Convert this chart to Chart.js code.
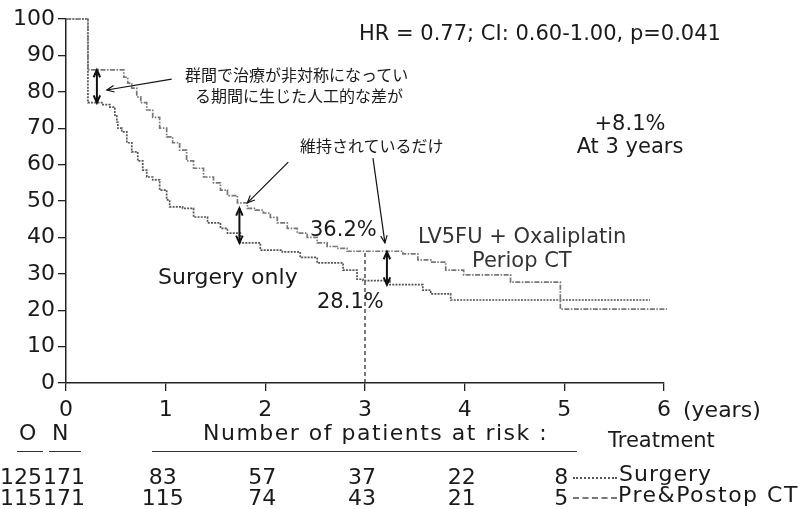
<!DOCTYPE html>
<html>
<head>
<meta charset="utf-8">
<script src="https://cdn.jsdelivr.net/npm/chart.js@4"></script>
<style>
  html, body { margin: 0; padding: 0; background: #fff; }
  #wrap { position: relative; width: 808px; height: 509px; overflow: hidden; }
  #c { position: absolute; left: 0; top: 0; }
  .t { position: absolute; font-family: "DejaVu Sans", sans-serif; font-size: 22px; line-height: 1; color: #1a1a1a; white-space: nowrap; }
  .jp { position: absolute; font-family: "Noto Sans CJK JP", sans-serif; font-size: 16px; line-height: 1; color: #1a1a1a; white-space: nowrap; }
  .ul { position: absolute; height: 0; border-top: 1.5px solid #333; }
  .ls { position: absolute; height: 0; width: 44px; }
</style>
</head>
<body>
<div id="wrap">
  <canvas id="c" width="808" height="509"></canvas>

  <div class="t" style="left:359px; top:22.5px; font-size:21px;">HR = 0.77; CI: 0.60-1.00, p=0.041</div>
  <div class="jp" style="left:185px; top:66px;">群間で治療が非対称になってい</div>
  <div class="jp" style="left:195px; top:87px;">る期間に生じた人工的な差が</div>
  <div class="jp" style="left:300px; top:137px;">維持されているだけ</div>
  <div class="t" style="left:560px; width:140px; text-align:center; top:112.5px; font-size:21px;">+8.1%</div>
  <div class="t" style="left:560px; width:140px; text-align:center; top:135.5px; font-size:21px;">At 3 years</div>
  <div class="t" style="left:310px; top:219px; font-size:21px;">36.2%</div>
  <div class="t" style="left:317px; top:290.5px; font-size:21px;">28.1%</div>
  <div class="t" style="left:158px; top:266.4px;">Surgery only</div>
  <div class="t" style="left:418px; top:225.5px; font-size:21px; color:#333;">LV5FU + Oxaliplatin</div>
  <div class="t" style="left:472px; top:249.5px; font-size:21px; color:#333;">Periop CT</div>
  <div class="t" style="left:683px; top:399.4px;">(years)</div>

  <div class="t" style="left:19px; top:422.4px;">O</div>
  <div class="t" style="left:52px; top:422.4px;">N</div>
  <div class="ul" style="left:17px; top:451px; width:26px;"></div>
  <div class="ul" style="left:49px; top:451px; width:32px;"></div>
  <div class="t" style="left:203px; top:422.4px; letter-spacing:1.5px;">Number of patients at risk :</div>
  <div class="ul" style="left:152px; top:451px; width:425px;"></div>
  <div class="t" style="left:608px; top:430.4px; font-size:21px;">Treatment</div>

  <div class="t" style="left:0px; top:466.4px;">125</div>
  <div class="t" style="left:43px; top:466.4px;">171</div>
  <div class="t" style="left:0px; top:487.4px;">115</div>
  <div class="t" style="left:43px; top:487.4px;">171</div>

  <div class="ls" style="left:573px; top:477px; border-top:2px dotted #555;"></div>
  <div class="t" style="left:619px; top:463.4px; letter-spacing:1px;">Surgery</div>
  <div class="ls" style="left:573px; top:497px; border-top:2px dashed #777;"></div>
  <div class="t" style="left:618px; top:484.4px; letter-spacing:1.5px;">Pre&amp;Postop CT</div>
</div>

<script>
// survival curves (years, %)
const ctTime = [0, 0.22, 0.58, 0.62, 0.66, 0.71, 0.75, 0.81, 0.87, 0.94, 1.01, 1.07, 1.14, 1.21, 1.28, 1.38,
  1.48, 1.55, 1.62, 1.72, 1.82, 1.90, 1.98, 2.05, 2.12, 2.22, 2.32, 2.42, 2.52, 2.62, 2.72, 2.82,
  3.38, 3.53, 3.66, 3.81, 3.99, 4.46, 4.96, 6.03];
const ctSurv = [100, 86, 84, 82.4, 81, 78.6, 77, 75, 73, 70, 67.6, 66, 64, 61, 59, 56.6,
  55, 53, 51.5, 49.5, 48, 47.5, 46.7, 45.5, 44, 42.5, 41.2, 40, 38.5, 37.5, 37, 36.2,
  35.5, 33.8, 33.2, 31, 29.7, 27.7, 20.3, 20.3];

const surgTime = [0, 0.22, 0.37, 0.44, 0.49, 0.51, 0.52, 0.56, 0.61, 0.66, 0.72, 0.77, 0.81, 0.87, 0.94,
  1.01, 1.04, 1.17, 1.28, 1.42, 1.55, 1.62, 1.75, 1.95, 2.17, 2.35, 2.52, 2.78, 2.92, 2.98,
  3.25, 3.58, 3.66, 3.86, 5.86];
const surgSurv = [100, 77, 76.5, 75.8, 73.6, 71.7, 70, 69, 66, 63.5, 61, 58.5, 56.6, 55.8, 53,
  50.3, 48.4, 48, 45.6, 44, 42.5, 41.2, 38.5, 36.5, 36, 34.5, 33, 31, 28.5, 28.1,
  27, 25.5, 24.5, 22.8, 22.8];

const atYear = 3;
const ctAt3 = 36.2;

// number at risk
const riskYears = [1, 2, 3, 4, 5];
const riskSurgery = [83, 57, 37, 22, 8];
const riskCT = [115, 74, 43, 21, 5];

const xTicks = [0, 1, 2, 3, 4, 5, 6];

// annotation arrows, in data units
const arrows = [
  { from: [1.06, 83.5], to: [0.41, 80.5], both: false },
  { from: [0.31, 86], to: [0.31, 77], both: true },
  { from: [2.23, 60.7], to: [1.82, 49.5], both: false },
  { from: [1.74, 48], to: [1.74, 38.5], both: true },
  { from: [3.08, 61.8], to: [3.20, 38.5], both: false },
  { from: [3.22, 36], to: [3.22, 27], both: true }
];

const toXY = (xs, ys) => xs.map((x, i) => ({ x: x, y: ys[i] }));

function head(ctx, x1, y1, x2, y2, size) {
  const a = Math.atan2(y2 - y1, x2 - x1);
  ctx.beginPath();
  ctx.moveTo(x2 - size * Math.cos(a - 0.42), y2 - size * Math.sin(a - 0.42));
  ctx.lineTo(x2, y2);
  ctx.lineTo(x2 - size * Math.cos(a + 0.42), y2 - size * Math.sin(a + 0.42));
  ctx.stroke();
}

const arrowPlugin = {
  id: "arrows",
  afterDatasetsDraw(chart) {
    const { ctx, scales: { x, y } } = chart;
    ctx.save();
    ctx.strokeStyle = "#111";
    ctx.setLineDash([]);
    arrows.forEach(a => {
      const x1 = x.getPixelForValue(a.from[0]), y1 = y.getPixelForValue(a.from[1]);
      const x2 = x.getPixelForValue(a.to[0]), y2 = y.getPixelForValue(a.to[1]);
      ctx.lineWidth = a.both ? 2 : 1.2;
      ctx.beginPath();
      ctx.moveTo(x1, y1);
      ctx.lineTo(x2, y2);
      ctx.stroke();
      head(ctx, x1, y1, x2, y2, 8);
      if (a.both) head(ctx, x2, y2, x1, y1, 8);
    });
    ctx.restore();
  }
};

const tickFont = { family: "DejaVu Sans", size: 22 };

const chart = new Chart(document.getElementById("c"), {
  type: "line",
  data: {
    datasets: [
      {
        label: "Pre&Postop CT",
        data: toXY(ctTime, ctSurv),
        stepped: true,
        borderColor: "#777",
        borderWidth: 1.7,
        borderDash: [5, 1.5, 1.5, 1.5],
        pointRadius: 0,
        clip: 5
      },
      {
        label: "Surgery",
        data: toXY(surgTime, surgSurv),
        stepped: true,
        borderColor: "#555",
        borderWidth: 1.7,
        borderDash: [2, 1.2],
        pointRadius: 0,
        clip: 5
      },
      {
        label: "3 years",
        data: [{ x: atYear, y: 0 }, { x: atYear, y: ctAt3 }],
        borderColor: "#222",
        borderWidth: 1.2,
        borderDash: [4, 3],
        pointRadius: 0
      }
    ]
  },
  options: {
    responsive: false,
    animation: false,
    layout: { padding: { top: 19, right: 144, left: 0, bottom: 0 } },
    plugins: { legend: { display: false }, tooltip: { enabled: false } },
    scales: {
      x: {
        type: "linear",
        min: 0,
        max: 6,
        afterFit: s => { s.height = 126; },
        afterBuildTicks: s => { s.ticks = xTicks.map(v => ({ value: v })); },
        grid: { drawOnChartArea: false, drawTicks: true, tickLength: 8, color: "#222", lineWidth: 1.3 },
        border: { display: true, color: "#222", width: 1.5 },
        ticks: { font: tickFont, color: "#1a1a1a", padding: 6, maxRotation: 0 }
      },
      y: {
        min: 0,
        max: 100,
        afterFit: s => { s.width = 66; },
        grid: { drawOnChartArea: false, drawTicks: true, tickLength: 8, color: "#222", lineWidth: 1.3 },
        border: { display: true, color: "#222", width: 1.5 },
        ticks: { stepSize: 10, font: tickFont, color: "#1a1a1a", padding: 3 }
      }
    }
  },
  plugins: [arrowPlugin]
});

// at-risk numbers placed under each year tick
const wrap = document.getElementById("wrap");
function riskRow(values, top) {
  values.forEach((v, i) => {
    const d = document.createElement("div");
    d.className = "t";
    d.textContent = String(v);
    d.style.top = top + "px";
    d.style.left = (chart.scales.x.getPixelForValue(riskYears[i]) - 3) + "px";
    d.style.transform = "translateX(-50%)";
    wrap.appendChild(d);
  });
}
riskRow(riskSurgery, 466.4);
riskRow(riskCT, 487.4);
</script>
</body>
</html>
